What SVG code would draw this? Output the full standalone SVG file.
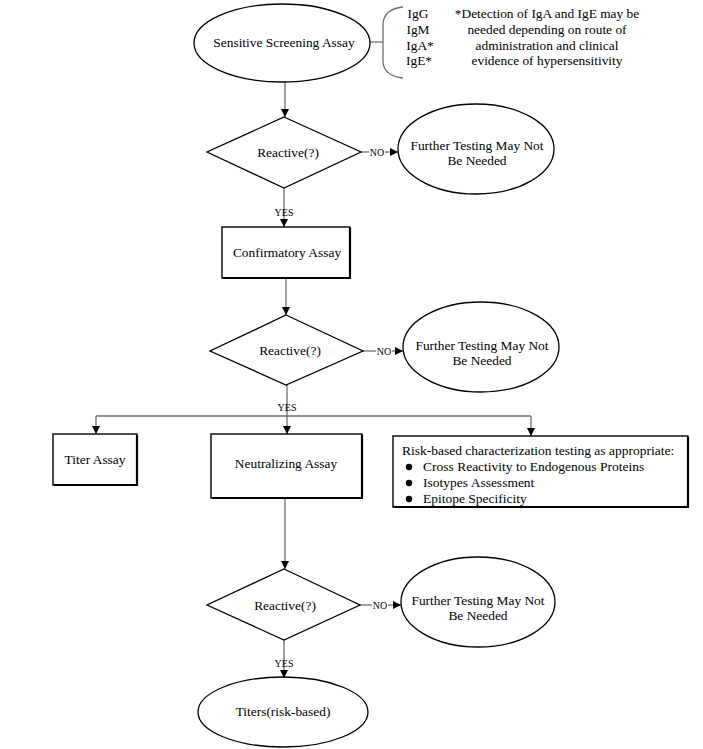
<svg xmlns="http://www.w3.org/2000/svg" width="703" height="749" viewBox="0 0 703 749">
<defs>
<marker id="ah" markerUnits="userSpaceOnUse" markerWidth="8" markerHeight="8" refX="8" refY="4" orient="auto">
<path d="M0,0 L8,4 L0,8 z" fill="#000"/>
</marker>
<style>
text{font-family:"Liberation Serif","Times New Roman",serif;fill:#000;}
.t{font-size:13.4px;text-anchor:middle;}
.l{font-size:13.5px;}
.s{font-size:10px;text-anchor:middle;}
.sh{fill:none;stroke:#000;stroke-width:1.3;}
.bx{fill:#fff;stroke:#000;stroke-width:1.4;}
.bs{fill:none;stroke:#000;stroke-width:2.2;}
.c{fill:none;stroke:#6e6e6e;stroke-width:1.3;}
.ca{fill:none;stroke:#6e6e6e;stroke-width:1.3;marker-end:url(#ah);}
</style>
</defs>
<rect width="703" height="749" fill="#fff"/>

<g id="connectors">
<line class="c" x1="370" y1="42" x2="383" y2="42"/>
<line class="ca" x1="285" y1="82" x2="285" y2="117"/>
<line class="c" x1="361" y1="152" x2="369" y2="152"/>
<line class="ca" x1="385" y1="152" x2="398" y2="152"/>
<line class="ca" x1="284" y1="188" x2="284" y2="227"/>
<line class="ca" x1="286" y1="278" x2="286" y2="315"/>
<line class="c" x1="363" y1="351" x2="376" y2="351"/>
<line class="ca" x1="392" y1="351" x2="403" y2="351"/>
<line class="ca" x1="287" y1="385" x2="287" y2="434"/>
<line class="c" x1="96" y1="416" x2="531" y2="416"/>
<line class="ca" x1="96" y1="416" x2="96" y2="434"/>
<line class="ca" x1="531" y1="416" x2="531" y2="436"/>
<line class="ca" x1="285" y1="498" x2="285" y2="569"/>
<line class="c" x1="360" y1="605" x2="372" y2="605"/>
<line class="ca" x1="388" y1="605" x2="401" y2="605"/>
<line class="ca" x1="284" y1="640" x2="284" y2="678"/>
<text class="s" x="377" y="155.5">NO</text>
<text class="s" x="284" y="215.5">YES</text>
<text class="s" x="384" y="354.5">NO</text>
<text class="s" x="287" y="411">YES</text>
<text class="s" x="380" y="608.5">NO</text>
<text class="s" x="284" y="667">YES</text>
</g>

<g id="screening">
<ellipse class="sh" cx="282" cy="43" rx="88" ry="39"/>
<text class="t" x="284" y="47">Sensitive Screening Assay</text>
</g>

<g id="isotypes">
<path class="c" d="M403,7 Q384,9 383,24 L383,62 Q384,76 403,78"/>
<text class="t" x="418" y="18">IgG</text>
<text class="t" x="418" y="34">IgM</text>
<text class="t" x="420" y="50">IgA*</text>
<text class="t" x="419" y="65">IgE*</text>
</g>

<g id="note">
<text class="t" x="547" y="18">*Detection of IgA and IgE may be</text>
<text class="t" x="547" y="34">needed depending on route of</text>
<text class="t" x="547" y="50">administration and clinical</text>
<text class="t" x="547" y="65">evidence of hypersensitivity</text>
</g>

<g id="reactive1">
<polygon class="sh" points="284,117 361,152 284,188 207,152"/>
<text class="t" x="288" y="157">Reactive(?)</text>
</g>

<g id="further1">
<ellipse class="sh" cx="476" cy="149" rx="78" ry="45"/>
<text class="t" x="477" y="150">Further Testing May Not</text>
<text class="t" x="477" y="165">Be Needed</text>
</g>

<g id="confirmatory">
<rect class="bx" x="222" y="227" width="128" height="51"/>
<polyline class="bs" points="223,278 350,278 350,228"/>
<text class="t" x="287" y="257">Confirmatory Assay</text>
</g>

<g id="reactive2">
<polygon class="sh" points="286,315 363,351 286,385 210,351"/>
<text class="t" x="290" y="355">Reactive(?)</text>
</g>

<g id="further2">
<ellipse class="sh" cx="481" cy="347" rx="78" ry="45"/>
<text class="t" x="482" y="350">Further Testing May Not</text>
<text class="t" x="482" y="365">Be Needed</text>
</g>

<g id="titer">
<rect class="bx" x="53" y="434" width="84" height="51"/>
<polyline class="bs" points="54,485 137,485 137,435"/>
<text class="t" x="95" y="464">Titer Assay</text>
</g>

<g id="neutralizing">
<rect class="bx" x="211" y="434" width="151" height="64"/>
<polyline class="bs" points="212,498 362,498 362,435"/>
<text class="t" x="286" y="468">Neutralizing Assay</text>
</g>

<g id="characterization">
<rect class="bx" x="393" y="436" width="295" height="71"/>
<polyline class="bs" points="394,507 688,507 688,437"/>
<text class="l" x="402" y="455">Risk-based characterization testing as appropriate:</text>
<circle cx="409" cy="467" r="3.2" fill="#000"/>
<circle cx="409" cy="483" r="3.2" fill="#000"/>
<circle cx="409" cy="499" r="3.2" fill="#000"/>
<text class="l" x="423" y="471">Cross Reactivity to Endogenous Proteins</text>
<text class="l" x="423" y="487">Isotypes  Assessment</text>
<text class="l" x="423" y="503">Epitope Specificity</text>
</g>

<g id="reactive3">
<polygon class="sh" points="284,569 360,605 284,640 207,605"/>
<text class="t" x="285" y="610">Reactive(?)</text>
</g>

<g id="further3">
<ellipse class="sh" cx="478" cy="602" rx="77" ry="45"/>
<text class="t" x="478" y="605">Further Testing May Not</text>
<text class="t" x="478" y="620">Be Needed</text>
</g>

<g id="titers">
<ellipse class="sh" cx="283" cy="712" rx="85" ry="35"/>
<text class="t" x="283" y="716">Titers(risk-based)</text>
</g>
</svg>
